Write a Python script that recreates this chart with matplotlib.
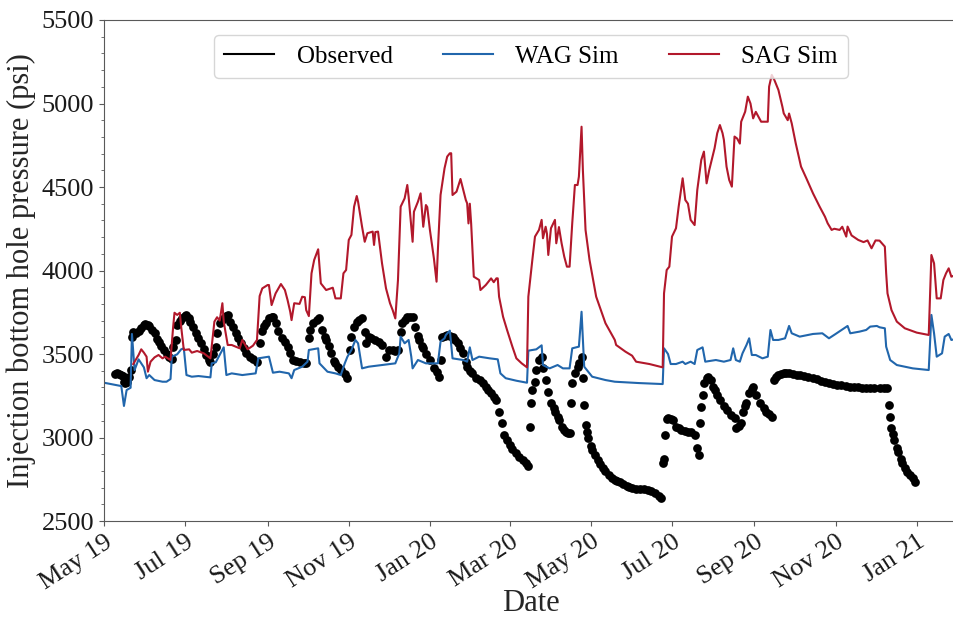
import numpy as np
import pandas as pd
import matplotlib
matplotlib.use("Agg")
import matplotlib.pyplot as plt
import matplotlib.dates as mdates
from matplotlib.lines import Line2D
from matplotlib.ticker import MultipleLocator

plt.rcParams['font.family'] = ['Liberation Serif', 'DejaVu Serif']

start = pd.Timestamp('2019-05-01')

# observed BHP (day since 1 May 2019, psi)
obs_day = [8, 10, 11, 13, 14, 15, 16, 17, 19, 20,
           21, 22, 24, 26, 28, 30, 31, 33, 34, 36, 38, 40, 41, 43, 45, 47, 49, 51,
           52, 54, 55, 57, 59, 61, 62, 64, 65, 67, 69, 71, 73, 75, 77, 79, 80,
           82, 84, 85, 87, 89, 90, 92, 93, 95, 97, 99, 101, 103, 105, 107, 110, 112, 115,
           117, 119, 120, 122, 124, 126, 127, 129, 131, 134, 136, 138, 140, 142, 144, 147, 150, 152,
           154, 155, 157, 160, 162, 164, 166, 167, 169, 171, 173, 174, 176, 178, 181, 183,
           185, 186, 188, 190, 192, 194, 196, 197, 199, 201, 204, 207, 209, 212, 214, 217, 219, 221,
           223, 224, 226, 228, 230, 232, 234, 236, 237, 239, 240, 242, 245, 248, 250, 252,
           253, 254, 256, 258, 260, 262, 264, 266, 268, 270, 272, 273, 275, 277, 280, 283, 285,
           287, 289, 291, 293, 295, 297, 299, 301, 303, 305, 307, 310, 312, 315, 317, 319,
           320, 321, 322, 324, 325, 327, 329, 330, 332, 334, 336, 338, 339, 341, 342, 344, 346,
           347, 349, 350,
           351, 352, 354, 356, 357, 359, 360, 361, 362, 363, 364, 366, 367, 369, 371, 373, 375,
           377, 380, 382, 384, 386, 388, 390, 393, 395, 397, 400, 403, 406, 409, 411, 414, 417, 419,
           420, 421, 422, 423, 424, 426, 428, 430, 432, 434, 437, 439, 441, 444, 446, 447,
           448, 449, 450, 451, 453, 454, 456, 458, 459, 461, 463, 466, 468, 471, 474, 475, 477,
           479, 480, 482, 483, 485, 487, 488, 490, 493, 496, 498, 500, 502,
           504, 505, 507, 509, 511, 513, 515, 518, 521, 523, 526, 529, 533, 536, 539, 542, 545,
           548, 551, 554, 558, 561, 564, 567, 570, 573, 576, 579, 583, 586, 589,
           590, 591, 592, 593, 594, 596, 597, 599, 600, 602, 604, 606, 608, 610]
obs_psi = [3380, 3384, 3380, 3374, 3370, 3334, 3324, 3330, 3360, 3404,
           3600, 3634, 3624, 3640, 3654, 3672, 3680, 3675, 3668, 3645, 3624, 3590, 3574, 3550, 3524, 3500, 3484, 3468,
           3540, 3584, 3674, 3700, 3714, 3730, 3734, 3715, 3694, 3660, 3624, 3595, 3564, 3530, 3494, 3465, 3454,
           3500, 3544, 3624, 3684, 3705, 3714, 3728, 3734, 3694, 3660, 3624, 3595, 3564, 3535, 3504, 3480, 3468, 3454,
           3564, 3640, 3665, 3684, 3714, 3722, 3724, 3684, 3640, 3594, 3570, 3544, 3505, 3464, 3460, 3454, 3448, 3444,
           3594, 3644, 3684, 3705, 3714, 3644, 3600, 3584, 3545, 3504, 3460, 3444, 3420, 3404, 3380, 3355,
           3524, 3604, 3664, 3690, 3704, 3714, 3634, 3564, 3604, 3595, 3584, 3570, 3554, 3484, 3524, 3524, 3520, 3524,
           3634, 3684, 3705, 3720, 3724, 3724, 3664, 3610, 3584, 3550, 3534, 3500, 3464, 3414, 3390, 3364,
           3464, 3600, 3610, 3614, 3610, 3604, 3585, 3564, 3535, 3504, 3450, 3424, 3400, 3384, 3355, 3344, 3325,
           3304, 3285, 3264, 3245, 3224, 3155, 3085, 3015, 2985, 2955, 2930, 2905, 2885, 2865, 2845, 2829,
           3065, 3205, 3284, 3334, 3404, 3464, 3484, 3414, 3344, 3274, 3205, 3175, 3155, 3120, 3105, 3065, 3045,
           3035, 3028, 3025,
           3205, 3324, 3384, 3425, 3444, 3484, 3355, 3195, 3075, 3030, 2995, 2950, 2925, 2895, 2865, 2840, 2815,
           2800, 2775, 2760, 2745, 2738, 2735, 2722, 2712, 2705, 2698, 2692, 2690, 2690, 2688, 2680, 2665, 2652, 2640,
           2845, 2870, 3015, 3110, 3115, 3110, 3105, 3065, 3055, 3045, 3040, 3035, 3030, 3015, 2935, 2895,
           3085, 3185, 3254, 3324, 3355, 3364, 3344, 3300, 3284, 3255, 3224, 3190, 3164, 3135, 3115, 3055, 3070,
           3085, 3155, 3190, 3205, 3264, 3290, 3304, 3254, 3205, 3175, 3155, 3140, 3125,
           3344, 3360, 3374, 3380, 3384, 3386, 3384, 3380, 3376, 3374, 3368, 3362, 3355, 3348, 3340, 3334, 3328,
           3322, 3316, 3312, 3308, 3305, 3302, 3300, 3298, 3298, 3298, 3298, 3298, 3298, 3298,
           3195, 3125, 3055, 3020, 2985, 2940, 2915, 2870, 2845, 2820, 2795, 2775, 2755, 2735]

# WAG simulation
wag_day = [0, 13, 15, 17, 20, 21, 23, 26, 30, 32, 34, 38, 44, 47, 50, 51, 55, 58, 60, 62,
           66, 71, 80, 81, 84, 90, 92, 96, 104, 114, 116, 124, 127, 132, 139, 141, 143, 149,
           153, 154, 161, 162, 168, 174, 178, 181, 183, 186, 189, 191, 194, 199, 209, 219,
           222, 223, 226, 229, 231, 232, 236, 242, 251, 253, 256, 257, 260, 262, 270, 273,
           275, 277, 282, 290, 296, 298, 302, 310, 318, 319, 325, 329, 330, 335, 341, 345,
           350, 352, 357, 359, 361, 367, 377, 384, 402, 420, 421, 424, 426, 430, 435, 437,
           441, 444, 446, 450, 452, 460, 466, 471, 473, 475, 478, 480, 483, 485, 487, 490,
           495, 499, 501, 503, 507, 512, 515, 517, 523, 533, 540, 545, 550, 559, 561, 568,
           573, 576, 581, 583, 587, 588, 591, 596, 608, 620, 622, 624, 626, 630, 632, 635,
           637, 640]
wag_psi = [3328, 3308, 3189, 3284, 3298, 3620, 3404, 3468, 3420, 3355, 3374, 3344, 3334, 3334,
           3350, 3484, 3498, 3528, 3534, 3374, 3364, 3368, 3360, 3444, 3450, 3540, 3374, 3384,
           3374, 3384, 3474, 3484, 3388, 3394, 3384, 3355, 3404, 3424, 3454, 3524, 3534, 3444,
           3394, 3384, 3374, 3444, 3484, 3524, 3584, 3564, 3414, 3424, 3434, 3444, 3504, 3604,
           3564, 3584, 3484, 3414, 3464, 3444, 3444, 3574, 3594, 3614, 3640, 3474, 3464, 3454,
           3540, 3464, 3484, 3474, 3468, 3384, 3355, 3340, 3328, 3520, 3528, 3552, 3434, 3414,
           3434, 3414, 3414, 3534, 3544, 3753, 3424, 3364, 3344, 3334, 3326, 3320, 3534, 3500,
           3440, 3440, 3454, 3440, 3454, 3440, 3524, 3540, 3454, 3464, 3454, 3464, 3534, 3464,
           3454, 3504, 3554, 3594, 3494, 3494, 3474, 3484, 3644, 3584, 3584, 3594, 3668, 3624,
           3604, 3620, 3624, 3594, 3620, 3668, 3624, 3634, 3644, 3664, 3668, 3660, 3654, 3544,
           3464, 3434, 3414, 3404, 3734, 3624, 3484, 3504, 3604, 3620, 3584, 3590]

# SAG simulation
sag_day = [22, 26, 28, 30, 32, 33, 35, 38, 41, 44, 46, 50, 52, 53, 55, 57, 58, 60, 64, 66,
           70, 75, 80, 83, 85, 87, 89, 90, 93, 96, 102, 104, 108, 112, 115, 117, 119, 123,
           124, 126, 129, 133, 136, 138, 140, 141, 143, 147, 149, 151, 152, 154, 156, 158,
           161, 163, 167, 172, 174, 178, 180, 182, 184, 186, 188, 190, 191, 194, 196, 198,
           202, 203, 204, 206, 209, 212, 215, 217, 219, 221, 223, 226, 228, 229, 232, 233,
           236, 238, 240, 242, 243, 245, 248, 250, 251, 253, 256, 258, 260, 261, 262, 265,
           268, 272, 273, 274, 275, 276, 277, 278, 282, 283, 287, 291, 293, 295, 296, 297,
           300, 303, 307, 310, 314, 318, 319, 322, 324, 327, 329, 330, 332, 333, 334, 336,
           339, 340, 342, 344, 346, 348, 350, 352, 354, 356, 357, 359, 360, 362, 365, 370,
           377, 384, 385, 392, 397, 400, 410, 420, 421, 423, 425, 427, 430, 432, 435, 437,
           439, 441, 444, 446, 449, 451, 453, 455, 459, 461, 463, 465, 466, 468, 470, 472,
           474, 476, 478, 479, 482, 484, 486, 488, 490, 492, 494, 499, 500, 502, 504, 507,
           510, 511, 514, 515, 517, 520, 524, 528, 533, 538, 542, 544, 547, 549, 553, 555,
           558, 559, 562, 567, 571, 574, 577, 580, 583, 587, 588, 589, 592, 596, 602, 611,
           620, 622, 624, 626, 629, 631, 633, 635, 637, 640]
sag_psi = [3440, 3494, 3528, 3508, 3484, 3394, 3454, 3480, 3494, 3474, 3484, 3464, 3664, 3747,
           3734, 3747, 3664, 3524, 3528, 3508, 3518, 3504, 3474, 3694, 3720, 3700, 3804, 3694,
           3554, 3554, 3534, 3584, 3528, 3550, 3584, 3847, 3893, 3913, 3913, 3793, 3863, 3919,
           3883, 3823, 3753, 3703, 3804, 3800, 3843, 3840, 3763, 3727, 3983, 4063, 4127, 3923,
           3883, 3897, 3833, 3833, 3983, 4003, 4183, 4213, 4382, 4446, 4412, 4262, 4172, 4223,
           4233, 4153, 4230, 4233, 4043, 3893, 3804, 3763, 3713, 3943, 4382, 4432, 4512, 4442,
           4172, 4352, 4412, 4462, 4262, 4392, 4380, 4243, 4073, 3933, 4123, 4452, 4612, 4682,
           4702, 4702, 4452, 4472, 4548, 4422, 4402, 4282, 4400, 4282, 4123, 3963, 3943, 3883,
           3913, 3953, 3930, 3953, 3953, 3843, 3723, 3644, 3544, 3474, 3444, 3420, 3843, 4063,
           4203, 4243, 4303, 4193, 4262, 4220, 4093, 4253, 4303, 4163, 4260, 4163, 4083, 4023,
           4023, 4283, 4512, 4512, 4562, 4861, 4602, 4243, 4063, 3843, 3684, 3584, 3554, 3514,
           3490, 3454, 3440, 3420, 3863, 4003, 4023, 4203, 4253, 4382, 4552, 4422, 4400, 4303,
           4272, 4482, 4662, 4712, 4522, 4602, 4732, 4822, 4871, 4822, 4782, 4622, 4542, 4502,
           4802, 4790, 4760, 4891, 4951, 5041, 5000, 4911, 4950, 4920, 4891, 4891, 5101, 5171,
           5140, 5081, 4980, 4941, 4900, 4940, 4881, 4762, 4622, 4552, 4462, 4382, 4322, 4283,
           4243, 4250, 4243, 4262, 4203, 4263, 4210, 4183, 4170, 4180, 4133, 4180, 4179, 4143,
           3983, 3863, 3763, 3694, 3654, 3628, 3614, 4093, 4043, 3833, 3833, 3943, 3983, 4013,
           3963, 3973]

obs_t = start + pd.to_timedelta(obs_day, unit='D')
wag_t = start + pd.to_timedelta(wag_day, unit='D')
sag_t = start + pd.to_timedelta(sag_day, unit='D')

blue = '#2166ac'
red = '#b2182b'

fig = plt.figure(figsize=(9.54, 6.2), dpi=100)
ax = fig.add_axes([104/954, 99/620, 854/954, 501/620])

ax.plot(obs_t, obs_psi, 'o', color='black', ms=6.3, mec='none')
ax.plot(wag_t, wag_psi, color=blue, lw=1.5)
ax.plot(sag_t, sag_psi, color=red, lw=1.5)

ax.set_xlim(start, pd.Timestamp('2021-02-01'))
ax.set_ylim(2500, 5500)
ax.yaxis.set_major_locator(MultipleLocator(500))
ax.yaxis.set_minor_locator(MultipleLocator(100))
ax.xaxis.set_major_locator(mdates.MonthLocator(bymonth=[1, 3, 5, 7, 9, 11]))
ax.xaxis.set_major_formatter(mdates.DateFormatter('%b %y'))
ax.tick_params(axis='both', labelsize=19, colors='0.1')
ax.tick_params(axis='both', which='both', color='0.35')
for lab in ax.get_xticklabels():
    lab.set_rotation(33)
    lab.set_ha('right')
    lab.set_rotation_mode('anchor')
for s in ax.spines.values():
    s.set_color('0.35')

ax.set_xlabel('Date', fontsize=22, color='0.15', labelpad=-3)
ax.set_ylabel('Injection bottom hole pressure (psi)', fontsize=22, color='0.15')

handles = [Line2D([], [], color='black', lw=1.5),
           Line2D([], [], color=blue, lw=1.5),
           Line2D([], [], color=red, lw=1.5)]
ax.legend(handles, ['Observed', 'WAG Sim', 'SAG Sim'], loc='upper center',
          bbox_to_anchor=(0.5, 0.995), ncol=3, fontsize=18, columnspacing=2.0,
          handletextpad=0.9, frameon=True, edgecolor='0.8')

fig.savefig('out.png', dpi=100)
